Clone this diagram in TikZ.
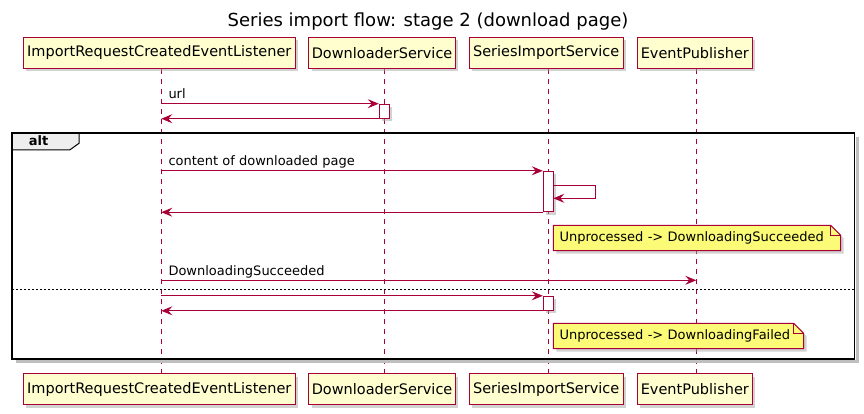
\documentclass[tikz,border=0pt]{standalone}
\usepackage{fontspec}
\setmainfont{DejaVu Sans}
\usetikzlibrary{arrows.meta,calc,shadows,backgrounds}
\definecolor{pfill}{HTML}{FEFECE}
\definecolor{pline}{HTML}{A80036}
\definecolor{nfill}{HTML}{FBFB77}
\definecolor{tabfill}{HTML}{EEEEEE}
\begin{document}
\begin{tikzpicture}[x=1pt,y=-1pt,
 shad/.style={drop shadow={shadow xshift=3pt, shadow yshift=-3pt, fill=black!35, opacity=0.5}},
 part/.style={draw=pline, fill=pfill, line width=1pt, minimum height=31pt, inner sep=0pt, font=\fontsize{14.5}{16}\selectfont, shad},
 life/.style={draw=pline, line width=0.8pt, dash pattern=on 5pt off 5pt},
 msg/.style={draw=pline, line width=1pt, -{Stealth[length=11pt,width=9pt,inset=4pt]}},
 act/.style={draw=pline, fill=white, line width=1pt, minimum width=10pt, inner sep=0pt, shad},
 lbl/.style={font=\fontsize{13}{15}\selectfont, inner sep=0pt, anchor=base west},
 notetext/.style={font=\fontsize{13}{15}\selectfont, inner xsep=6pt, inner ysep=0pt, align=left, anchor=north west, minimum height=25pt},
 notebg/.style={draw=pline, fill=nfill, line width=1pt},
 noteshad/.style={fill=black!35, opacity=0.5, transform canvas={shift={(3pt,-3pt)}}},
 sepline/.style={draw=black, line width=0.8pt, dash pattern=on 2pt off 2pt},
]
\useasboundingbox (0,0) rectangle (864,414);

% title
\node[font=\fontsize{18}{20}\selectfont, anchor=base, inner sep=0pt] (title) at (428,26.7) {Series import flow: stage 2 (download page)};

% lifeline x positions
\coordinate (L1) at (161.3,0);
\coordinate (L2) at (384.3,0);
\coordinate (L3) at (548.3,0);
\coordinate (L4) at (696.3,0);

% participants
\node[part, minimum width=272pt] (p1t) at (159.3,52.8) {ImportRequestCreatedEventListener};
\node[part, minimum width=146.3pt] (p2t) at (382.1,52.8) {DownloaderService};
\node[part, minimum width=153.7pt] (p3t) at (546.2,52.8) {SeriesImportService};
\node[part, minimum width=115pt] (p4t) at (694.8,52.8) {EventPublisher};
\node[part, minimum width=272pt] (p1b) at (159.3,389.3) {ImportRequestCreatedEventListener};
\node[part, minimum width=146.3pt] (p2b) at (382.1,389.3) {DownloaderService};
\node[part, minimum width=153.7pt] (p3b) at (546.2,389.3) {SeriesImportService};
\node[part, minimum width=115pt] (p4b) at (694.8,389.3) {EventPublisher};

% frame (positioning node)
\path node[minimum width=842pt, minimum height=225pt, inner sep=0pt, anchor=north west] (frame) at (12,133.3) {};

% notes (text nodes)
\node[notetext, text width=275pt] (n1) at (553.3,225.3) {Unprocessed -> DownloadingSucceeded};
\node[notetext, text width=238pt] (n2) at (553.3,323.3) {Unprocessed -> DownloadingFailed};

\begin{scope}[on background layer]
 \draw[life] (p1t.south -| L1) -- (p1b.north -| L1);
 \draw[life] (p2t.south -| L2) -- (p2b.north -| L2);
 \draw[life] (p3t.south -| L3) -- (p3b.north -| L3);
 \draw[life] (p4t.south -| L4) -- (p4b.north -| L4);
 % frame shadow
 \draw[black!25, line width=3pt] ($(frame.north east)+(3pt,-4pt)$) -- ($(frame.south east)+(3pt,-3pt)$) -- ($(frame.south west)+(4pt,-3pt)$);
 % alt tab
 \filldraw[fill=tabfill, draw=black, line width=1pt] (frame.north west) -- ++(67,0) -- ++(0,10) -- ++(-9.3,6.7) -- ++(-57.7,0) -- cycle;
 % note shapes
 \fill[noteshad] (n1.north west) -- ($(n1.north east)+(-10pt,0)$) -- ($(n1.north east)+(0,-10pt)$) -- (n1.south east) -- (n1.south west) -- cycle;
 \draw[notebg] (n1.north west) -- ($(n1.north east)+(-10pt,0)$) -- ($(n1.north east)+(0,-10pt)$) -- (n1.south east) -- (n1.south west) -- cycle;
 \draw[draw=pline, line width=1pt] ($(n1.north east)+(-10pt,0)$) |- ($(n1.north east)+(0,-10pt)$);
 \fill[noteshad] (n2.north west) -- ($(n2.north east)+(-10pt,0)$) -- ($(n2.north east)+(0,-10pt)$) -- (n2.south east) -- (n2.south west) -- cycle;
 \draw[notebg] (n2.north west) -- ($(n2.north east)+(-10pt,0)$) -- ($(n2.north east)+(0,-10pt)$) -- (n2.south east) -- (n2.south west) -- cycle;
 \draw[draw=pline, line width=1pt] ($(n2.north east)+(-10pt,0)$) |- ($(n2.north east)+(0,-10pt)$);
\end{scope}

% frame border
\draw[black, line width=1.8pt] (frame.north west) rectangle (frame.south east);
\node[font=\bfseries\fontsize{13}{15}\selectfont, anchor=base, inner sep=0pt] (alt) at (38.5,146) {alt};

% activations
\node[act, minimum height=14pt] (a1) at (384.3,111.2) {};
\node[act, minimum height=40.4pt] (a2) at (548.3,191.5) {};
\node[act, minimum height=14pt] (a3) at (548.3,303.3) {};

% messages
\draw[msg] (a1.north west -| L1) -- (a1.north west);
\node[lbl] (t1) at ($(a1.north west -| L1)+(7pt,5pt)$) {url};
\draw[msg] (a1.south west) -- (a1.south west -| L1);

\draw[msg] (a2.north west -| L1) -- (a2.north west);
\node[lbl] (t2) at ($(a2.north west -| L1)+(7pt,5pt)$) {content of downloaded page};
\coordinate (s1) at (553.3,185.3);
\coordinate (s2) at (553.3,198.3);
\draw[msg] (s1) -- ++(42,0) |- (s2);
\draw[msg] (a2.south west) -- (a2.south west -| L1);

\coordinate (y3) at (0,280.3);
\draw[msg] (y3 -| L1) -- (y3 -| L4);
\node[lbl] (t3) at ($(y3 -| L1)+(7pt,5pt)$) {DownloadingSucceeded};

\coordinate (ysep) at (0,289.3);
\draw[sepline] (frame.west |- ysep) -- (frame.east |- ysep);

\draw[msg] (a3.north west -| L1) -- (a3.north west);
\draw[msg] (a3.south west) -- (a3.south west -| L1);
\end{tikzpicture}
\end{document}
